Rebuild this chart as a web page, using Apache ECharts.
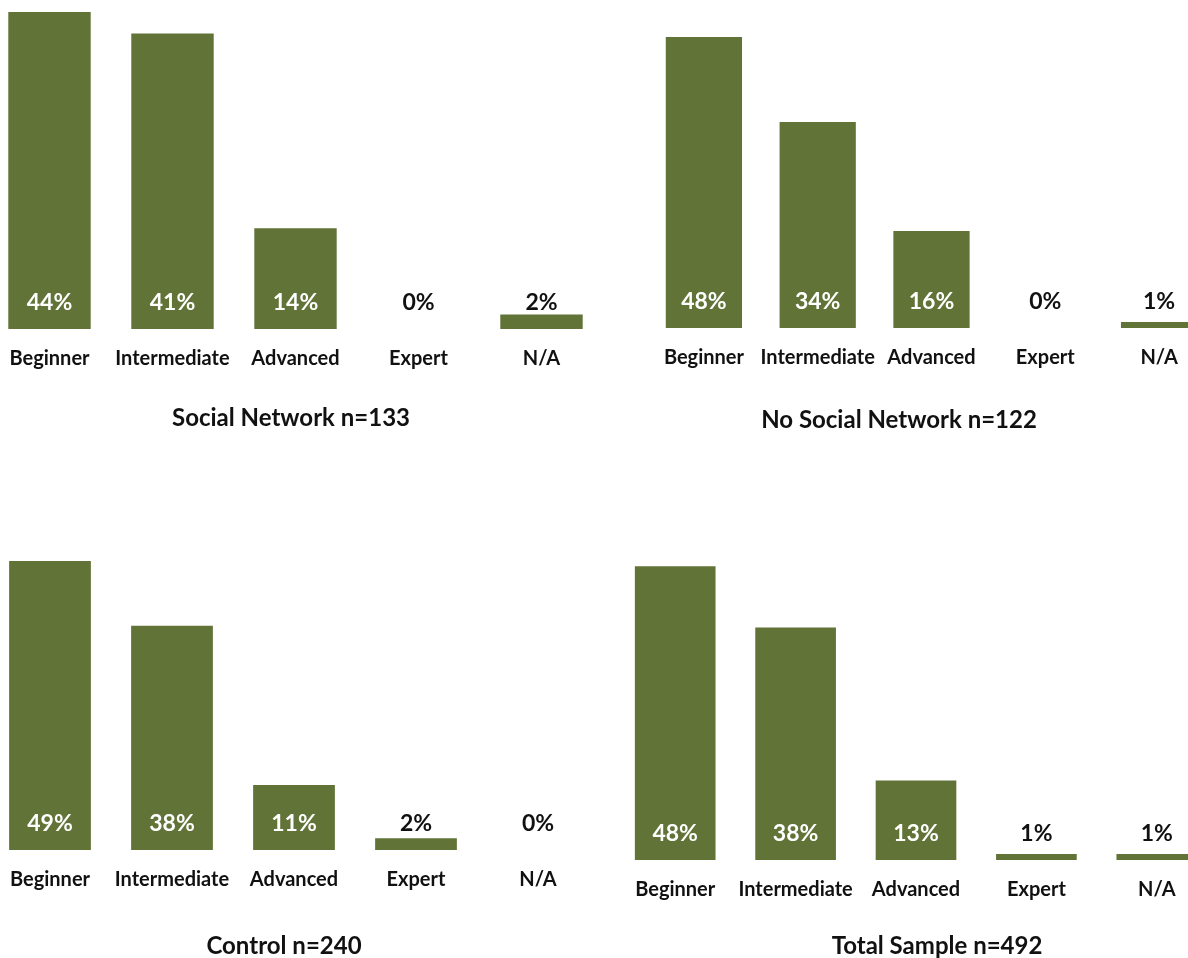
<!DOCTYPE html>
<html>
<head>
<meta charset="utf-8">
<script src="https://cdn.jsdelivr.net/npm/echarts@6/dist/echarts.min.js"></script>
<style>
html,body{margin:0;padding:0;background:#fff;overflow:hidden;}
#chart{width:1188px;height:958px;}
</style>
</head>
<body>
<div id="chart"></div>
<script>
const categories = ['Beginner', 'Intermediate', 'Advanced', 'Expert', 'N/A'];
const socialNetwork = [44, 41, 14, 0, 2];
const noSocialNetwork = [48, 34, 16, 0, 1];
const control = [49, 38, 11, 2, 0];
const totalSample = [48, 38, 13, 1, 1];
const panelTitles = ['Social Network n=133', 'No Social Network n=122', 'Control n=240', 'Total Sample n=492'];

const FONT = 'Lato';
const BAR = '#617336';
const INK = '#111111';

const panels = [
  { data: socialNetwork,   grid: { left: -12, width: 615, top: 12,  height: 317 }, max: 44, title: { x: 291, y: 406 } },
  { data: noSocialNetwork, grid: { left: 647, width: 569, top: 25,  height: 303 }, max: 50, title: { x: 899, y: 408 } },
  { data: control,         grid: { left: -11, width: 610, top: 555, height: 295 }, max: 50, title: { x: 284, y: 934 } },
  { data: totalSample,     grid: { left: 615, width: 602, top: 554, height: 306 }, max: 50, title: { x: 937, y: 934 } }
];

const option = {
  animation: false,
  backgroundColor: '#ffffff',
  title: panels.map((p, i) => ({
    text: panelTitles[i],
    left: p.title.x,
    top: p.title.y,
    textAlign: 'center',
    padding: 0,
    textStyle: { fontFamily: FONT, fontWeight: 'bold', fontSize: 24, lineHeight: 24, color: INK }
  })),
  grid: panels.map(p => Object.assign({ containLabel: false, outerBoundsMode: 'none' }, p.grid)),
  xAxis: panels.map((p, i) => ({
    type: 'category',
    gridIndex: i,
    data: categories,
    axisLine: { show: false },
    axisTick: { show: false },
    axisLabel: { interval: 0, margin: 20, fontFamily: FONT, fontWeight: 'bold', fontSize: 20, lineHeight: 20, color: INK }
  })),
  yAxis: panels.map((p, i) => ({
    type: 'value',
    gridIndex: i,
    min: 0,
    max: p.max,
    show: false,
    splitLine: { show: false }
  })),
  series: panels.map((p, i) => ({
    type: 'bar',
    xAxisIndex: i,
    yAxisIndex: i,
    barCategoryGap: '33%',
    itemStyle: { color: BAR },
    data: p.data.map(v => ({
      value: v,
      label: { color: v < 5 ? INK : '#fff' }
    })),
    label: {
      show: true,
      position: 'insideBottom',
      distance: 15,
      formatter: d => d.value + '%',
      fontFamily: FONT,
      fontWeight: 'bold',
      fontSize: 23,
      lineHeight: 23
    }
  }))
};

const chart = echarts.init(document.getElementById('chart'), null, { renderer: 'canvas' });
chart.setOption(option);
</script>
</body>
</html>
